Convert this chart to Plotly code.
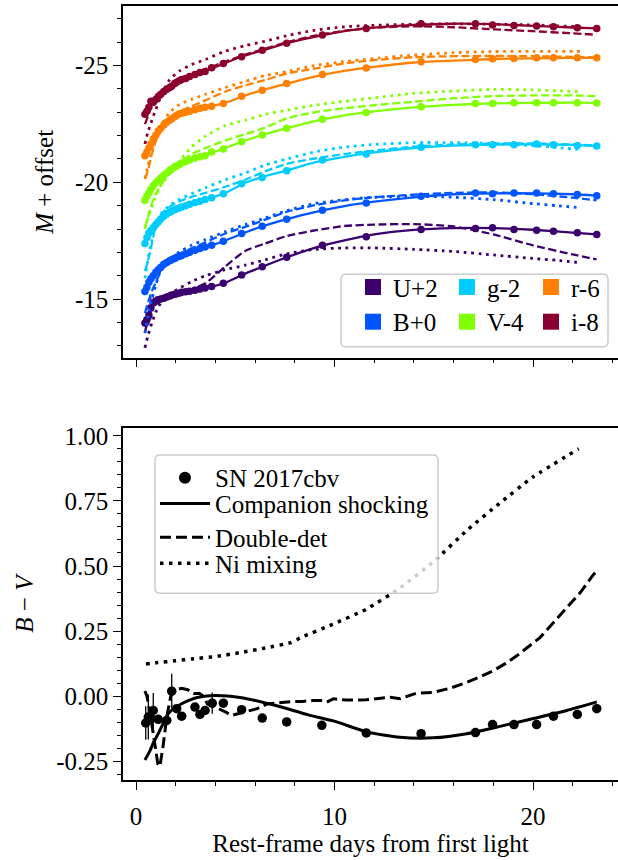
import plotly.graph_objects as go

# ---------------- light-curve data (plotted value = M + offset) ----------------
t_lc = [0.45, 0.55, 0.65, 0.75, 0.87, 1.0, 1.12, 1.25, 1.4, 1.55, 1.7, 1.8, 1.95, 2.05, 2.2, 2.3,
        2.5, 2.7, 2.97, 3.22, 3.48, 3.81, 4.40, 5.32, 6.36, 7.59, 9.39, 11.6, 14.36, 17.1, 17.96,
        19.04, 20.18, 21.03, 22.23, 23.21]

U_obs = [-13.98, -14.11, -14.32, -14.62, -14.83, -14.91, -14.97, -15.00, -15.04, -15.09, -15.13, -15.17,
         -15.21, -15.23, -15.26, -15.29, -15.31, -15.34, -15.38, -15.43, -15.47, -15.54, -15.68, -16.03,
         -16.39, -16.79, -17.31, -17.67, -17.98, -18.02, -18.05, -17.98, -17.95, -17.91, -17.84, -17.77]
U_err = [0.15, 0.3, 0.45, 0.5, 0.35, 0.2, 0.1, 0, 0, 0, 0, 0, 0, 0, 0, 0, 0, 0, 0, 0, 0, 0, 0, 0,
         0, 0, 0, 0, 0, 0, 0, 0, 0, 0, 0, 0]
B_obs = [-15.33, -15.51, -15.72, -15.87, -16.00, -16.15, -16.26, -16.36, -16.49, -16.57, -16.64, -16.68,
         -16.74, -16.79, -16.83, -16.87, -16.94, -17.00, -17.09, -17.17, -17.23, -17.30, -17.48, -17.81,
         -18.12, -18.42, -18.80, -19.11, -19.40, -19.54, -19.51, -19.54, -19.54, -19.51, -19.48, -19.43]
g_obs = [-17.38, -17.64, -17.83, -17.94, -18.06, -18.19, -18.30, -18.43, -18.55, -18.64, -18.72, -18.77,
         -18.83, -18.87, -18.91, -18.94, -19.00, -19.06, -19.14, -19.19, -19.26, -19.34, -19.51, -19.94,
         -20.21, -20.50, -20.96, -21.21, -21.50, -21.61, -21.61, -21.61, -21.64, -21.61, -21.58, -21.55]
V_obs = [-19.23, -19.40, -19.55, -19.70, -19.85, -19.98, -20.08, -20.19, -20.30, -20.40, -20.51, -20.57,
         -20.66, -20.70, -20.77, -20.83, -20.89, -20.96, -21.04, -21.09, -21.14, -21.30, -21.43, -21.74,
         -22.03, -22.32, -22.70, -22.99, -23.24, -23.37, -23.38, -23.41, -23.41, -23.41, -23.41, -23.40]
r_obs = [-21.14, -21.30, -21.47, -21.64, -21.85, -22.02, -22.20, -22.32, -22.45, -22.57, -22.66, -22.72,
         -22.81, -22.87, -22.94, -22.96, -23.00, -23.04, -23.11, -23.17, -23.21, -23.26, -23.37, -23.69,
         -23.94, -24.23, -24.62, -24.90, -25.16, -25.26, -25.29, -25.30, -25.33, -25.33, -25.33, -25.33]
i_obs = [-22.91, -23.04, -23.21, -23.47, -23.43, -23.55, -23.68, -23.77, -23.89, -23.98, -24.06, -24.11,
         -24.23, -24.28, -24.36, -24.40, -24.45, -24.53, -24.62, -24.70, -24.74, -24.91, -25.09, -25.38,
         -25.66, -25.96, -26.31, -26.59, -26.79, -26.79, -26.74, -26.72, -26.69, -26.66, -26.62, -26.59]

# ---------------- light-curve models ----------------
t_mod = [0.45, 0.6, 0.8, 1.0, 1.3, 1.7, 2.2, 2.8, 3.5, 4.5, 5.5, 6.5, 7.6, 9.0, 10.5, 12.0, 14.0,
         16.0, 18.0, 20.0, 22.0, 23.2]
t_ni = [0.45, 0.6, 0.8, 1.0, 1.3, 1.7, 2.2, 2.8, 3.5, 4.5, 5.5, 6.5, 7.6, 9.0, 10.5, 12.0, 14.0,
        16.0, 18.0, 20.0, 21.2, 22.4]

U_cs = [-13.89, -14.28, -14.79, -14.96, -15.02, -15.13, -15.26, -15.36, -15.47, -15.70, -16.09, -16.43,
        -16.79, -17.19, -17.51, -17.77, -17.96, -18.04, -18.04, -17.97, -17.85, -17.77]
B_cs = [-15.33, -15.64, -15.94, -16.13, -16.40, -16.64, -16.83, -17.02, -17.21, -17.51, -17.85, -18.15,
        -18.42, -18.72, -18.98, -19.17, -19.36, -19.49, -19.53, -19.53, -19.49, -19.43]
g_cs = [-17.38, -17.74, -18.00, -18.19, -18.47, -18.72, -18.91, -19.09, -19.26, -19.55, -19.98, -20.26,
        -20.51, -20.85, -21.09, -21.28, -21.47, -21.57, -21.62, -21.63, -21.60, -21.55]
V_cs = [-19.23, -19.47, -19.77, -19.98, -20.23, -20.51, -20.77, -21.00, -21.17, -21.47, -21.79, -22.06,
        -22.32, -22.62, -22.87, -23.04, -23.21, -23.32, -23.38, -23.40, -23.41, -23.40]
r_cs = [-21.14, -21.38, -21.72, -22.02, -22.36, -22.66, -22.94, -23.06, -23.21, -23.40, -23.72, -23.98,
        -24.23, -24.53, -24.77, -24.94, -25.13, -25.21, -25.28, -25.31, -25.33, -25.33]
i_cs = [-22.91, -23.17, -23.43, -23.60, -23.81, -24.06, -24.32, -24.55, -24.76, -25.11, -25.43, -25.68,
        -25.96, -26.23, -26.47, -26.62, -26.74, -26.79, -26.77, -26.70, -26.63, -26.59]

U_dd = [-13.55, -14.19, -14.74, -14.96, -15.09, -15.17, -15.30, -15.43, -15.68, -16.40, -17.06, -17.38,
        -17.70, -17.94, -18.13, -18.19, -18.21, -18.11, -17.77, -17.30, -16.91, -16.70]
B_dd = [-14.40, -14.83, -15.34, -15.72, -16.26, -16.66, -16.94, -17.17, -17.43, -17.81, -18.09, -18.40,
        -18.74, -19.02, -19.23, -19.36, -19.47, -19.55, -19.57, -19.49, -19.34, -19.23]
g_dd = [-16.20, -16.62, -17.38, -18.15, -18.66, -18.96, -19.19, -19.38, -19.55, -19.81, -20.11, -20.47,
        -20.79, -21.02, -21.21, -21.36, -21.53, -21.62, -21.66, -21.67, -21.62, -21.57]
V_dd = [-18.02, -18.49, -19.09, -19.51, -19.94, -20.43, -20.85, -21.21, -21.47, -21.79, -22.06, -22.34,
        -22.74, -23.00, -23.17, -23.30, -23.45, -23.60, -23.69, -23.72, -23.72, -23.69]
r_dd = [-20.15, -20.49, -21.21, -21.77, -22.28, -22.74, -23.04, -23.26, -23.51, -23.89, -24.15, -24.38,
        -24.66, -24.87, -25.09, -25.23, -25.36, -25.40, -25.41, -25.40, -25.37, -25.35]
i_dd = [-22.49, -22.83, -23.34, -23.55, -23.81, -24.06, -24.36, -24.62, -24.85, -25.17, -25.47, -25.72,
        -26.00, -26.28, -26.49, -26.62, -26.68, -26.64, -26.55, -26.47, -26.38, -26.32]

U_ni = [-12.91, -13.43, -13.98, -14.45, -14.91, -15.21, -15.47, -15.75, -16.00, -16.26, -16.45, -16.68,
        -16.94, -17.13, -17.19, -17.19, -17.13, -17.04, -16.89, -16.74, -16.66, -16.56]
B_ni = [-13.55, -14.28, -15.00, -15.60, -16.40, -16.74, -17.02, -17.31, -17.55, -17.89, -18.19, -18.47,
        -18.79, -19.09, -19.26, -19.36, -19.40, -19.36, -19.26, -19.09, -19.00, -18.91]
g_ni = [-15.89, -16.70, -17.55, -18.23, -18.70, -19.02, -19.28, -19.51, -19.77, -20.11, -20.40, -20.74,
        -21.00, -21.30, -21.51, -21.62, -21.70, -21.70, -21.66, -21.57, -21.49, -21.40]
V_ni = [-18.02, -18.49, -18.96, -19.43, -19.94, -20.36, -20.91, -21.51, -21.98, -22.43, -22.66, -22.91,
        -23.09, -23.30, -23.47, -23.62, -23.81, -23.91, -23.98, -23.96, -23.92, -23.88]
r_ni = [-20.15, -20.70, -21.34, -21.89, -22.49, -23.00, -23.34, -23.55, -23.77, -24.06, -24.32, -24.57,
        -24.74, -25.00, -25.17, -25.30, -25.45, -25.55, -25.60, -25.61, -25.61, -25.61]
i_ni = [-21.64, -22.15, -22.66, -23.13, -23.77, -24.40, -24.77, -25.04, -25.26, -25.62, -25.85, -26.04,
        -26.28, -26.51, -26.66, -26.72, -26.77, -26.79, -26.77, -26.74, -26.70, -26.66]

band_labels = ["U+2", "B+0", "g-2", "V-4", "r-6", "i-8"]
band_colors = ["#3c006e", "#0055ff", "#00ccff", "#7fff00", "#ff8000", "#8b0030"]

# ---------------- B-V colour ----------------
bv_t = [0.49, 0.62, 0.76, 0.87, 1.12, 1.55, 1.80, 2.05, 2.30, 2.97, 3.22, 3.48, 3.84, 4.40, 5.32,
        6.36, 7.59, 9.36, 11.6, 14.36, 17.1, 17.96, 19.04, 20.18, 21.03, 22.23, 23.21]
bv = [-0.103, -0.08, -0.086, -0.055, -0.089, -0.093, 0.019, -0.048, -0.077, -0.042, -0.070, -0.055,
      -0.027, -0.027, -0.052, -0.084, -0.099, -0.112, -0.141, -0.144, -0.140, -0.109, -0.109, -0.109,
      -0.077, -0.070, -0.048]
bv_err = [0.064, 0.086, 0, 0.067, 0, 0, 0.067, 0, 0, 0, 0, 0, 0.041, 0, 0, 0, 0, 0, 0, 0, 0, 0, 0,
          0, 0, 0, 0]

bv_cs_t = [0.45, 0.7, 0.9, 1.12, 1.4, 1.63, 2.0, 2.30, 2.7, 3.14, 3.98, 5.32, 7.0, 8.68, 9.94, 11.62,
           13.3, 14.98, 16.66, 18.34, 20.02, 21.7, 23.21]
bv_cs = [-0.245, -0.21, -0.175, -0.144, -0.10, -0.067, -0.042, -0.029, -0.015, -0.004, 0.003, -0.006,
         -0.035, -0.072, -0.095, -0.137, -0.158, -0.160, -0.144, -0.116, -0.086, -0.055, -0.022]

bv_dd_t = [0.45, 0.55, 0.7, 0.9, 1.1, 1.2, 1.35, 1.55, 1.75, 2.0, 2.3, 2.6, 2.9, 3.2, 3.4, 3.6, 3.9,
           4.2, 4.5, 4.8, 5.5, 6.1, 6.6, 7.2, 7.9, 8.4, 8.9, 9.4, 9.6, 9.95, 10.6, 11.6, 12.3, 12.8,
           13.3, 14.1, 15.0, 15.8, 16.66, 17.3, 18.0, 18.6, 19.18, 20.0, 20.35, 21.0, 21.7, 22.4,
           23.04, 23.2]
bv_dd = [0.02, 0.0, -0.06, -0.17, -0.26, -0.27, -0.2, -0.08, 0.0, 0.025, 0.03, 0.025, 0.01, 0.01, 0.0,
         -0.03, -0.04, -0.05, -0.06, -0.074, -0.06, -0.048, -0.03, -0.025, -0.02, -0.02, -0.017, -0.017,
         -0.023, -0.01, -0.015, -0.014, -0.008, -0.004, -0.01, 0.011, 0.015, 0.03, 0.053, 0.073, 0.098,
         0.125, 0.155, 0.206, 0.225, 0.28, 0.34, 0.40, 0.467, 0.48]

bv_ni_t = [0.5, 1.0, 2.0, 2.8, 4.0, 5.3, 6.5, 7.8, 8.3, 9.9, 11.6, 13.3, 15.0, 16.7, 18.3, 20.0, 22.3]
bv_ni = [0.124, 0.128, 0.136, 0.143, 0.152, 0.168, 0.185, 0.206, 0.225, 0.276, 0.334, 0.416, 0.518,
         0.639, 0.740, 0.842, 0.950]

bv_legend = ["SN 2017cbv", "Companion shocking", "Double-det", "Ni mixing"]

# ---------------- figure ----------------
FONT = "Liberation Serif, Times New Roman, serif"
FS = 25
fig = go.Figure()

obs = [U_obs, B_obs, g_obs, V_obs, r_obs, i_obs]
cs = [U_cs, B_cs, g_cs, V_cs, r_cs, i_cs]
dd = [U_dd, B_dd, g_dd, V_dd, r_dd, i_dd]
ni = [U_ni, B_ni, g_ni, V_ni, r_ni, i_ni]

TOP_DASH = "8px,3.5px"
TOP_DOT = "2.8px,4.6px"

for k in range(6):
    c = band_colors[k]
    fig.add_trace(go.Scatter(x=t_ni, y=ni[k], mode="lines", line=dict(color=c, width=2.8, dash=TOP_DOT,
                             shape="spline", smoothing=0.6), showlegend=False, xaxis="x", yaxis="y"))
    fig.add_trace(go.Scatter(x=t_mod, y=dd[k], mode="lines", line=dict(color=c, width=2.3, dash=TOP_DASH,
                             shape="spline", smoothing=0.6), showlegend=False, xaxis="x", yaxis="y"))
    fig.add_trace(go.Scatter(x=t_mod, y=cs[k], mode="lines", line=dict(color=c, width=2.3,
                             shape="spline", smoothing=0.6), showlegend=False, xaxis="x", yaxis="y"))
    err = dict(type="data", array=U_err, color=c, thickness=1.2, width=0) if k == 0 else None
    fig.add_trace(go.Scatter(x=t_lc, y=obs[k], mode="markers", marker=dict(color=c, size=7.5),
                             error_y=err, showlegend=False, xaxis="x", yaxis="y"))

# bottom panel
fig.add_trace(go.Scatter(x=bv_ni_t, y=bv_ni, mode="lines", showlegend=False,
                         line=dict(color="black", width=3.5, dash="3.5px,5.5px", shape="spline",
                                   smoothing=0.5), xaxis="x2", yaxis="y2"))
fig.add_trace(go.Scatter(x=bv_dd_t, y=bv_dd, mode="lines", showlegend=False,
                         line=dict(color="black", width=3, dash="11px,5px"), xaxis="x2", yaxis="y2"))
fig.add_trace(go.Scatter(x=bv_cs_t, y=bv_cs, mode="lines", showlegend=False,
                         line=dict(color="black", width=3, shape="spline", smoothing=0.6),
                         xaxis="x2", yaxis="y2"))
fig.add_trace(go.Scatter(x=bv_t, y=bv, mode="markers", showlegend=False,
                         marker=dict(color="black", size=9.5),
                         error_y=dict(type="data", array=bv_err, color="black", thickness=1.3, width=0),
                         xaxis="x2", yaxis="y2"))

# ---------------- legends (one plotly legend per entry, placed like the original) ----------------
# top panel legend: 3 columns x 2 rows
top_cols = [0.4646, 0.6545, 0.8242]
top_rows = [0.6367, 0.5918]
band_pos = [(0, 0), (0, 1), (1, 0), (1, 1), (2, 0), (2, 1)]
legend_layout = {}
for k in range(6):
    name = "legend" if k == 0 else "legend%d" % (k + 1)
    col, row = band_pos[k]
    legend_layout[name] = dict(x=top_cols[col], y=top_rows[row], xanchor="left", yanchor="middle",
                               bgcolor="rgba(0,0,0,0)", borderwidth=0, itemwidth=30,
                               font=dict(family=FONT, size=FS, color="black"))
    fig.add_trace(go.Scatter(x=[None], y=[None], mode="markers", name=band_labels[k],
                             marker=dict(symbol="square", size=16, color=band_colors[k]),
                             legend=name, xaxis="x", yaxis="y"))

# bottom panel legend: 4 rows
bot_rows = [0.3902, 0.3569, 0.3132, 0.2798]
bot_styles = [dict(mode="markers", marker=dict(color="black", size=12)),
              dict(mode="lines", line=dict(color="black", width=3)),
              dict(mode="lines", line=dict(color="black", width=3, dash="11px,5px")),
              dict(mode="lines", line=dict(color="black", width=3.5, dash="3.5px,5.5px"))]
for j in range(4):
    name = "legend%d" % (7 + j)
    legend_layout[name] = dict(x=0.0646, y=bot_rows[j], xanchor="left", yanchor="middle",
                               bgcolor="rgba(0,0,0,0)", borderwidth=0, itemwidth=50,
                               font=dict(family=FONT, size=FS, color="black"))
    fig.add_trace(go.Scatter(x=[None], y=[None], name=bv_legend[j], legend=name,
                             xaxis="x2", yaxis="y2", **bot_styles[j]))


def rounded_box(x0, y0, x1, y1, rx, ry):
    return ("M %f,%f L %f,%f Q %f,%f %f,%f L %f,%f Q %f,%f %f,%f L %f,%f Q %f,%f %f,%f "
            "L %f,%f Q %f,%f %f,%f Z" % (
                x0 + rx, y0, x1 - rx, y0, x1, y0, x1, y0 + ry, x1, y1 - ry, x1, y1, x1 - rx, y1,
                x0 + rx, y1, x0, y1, x0, y1 - ry, x0, y0 + ry, x0, y0, x0 + rx, y0))


RX, RY = 5 / 495, 5 / 779
legend_boxes = [
    (0.4404, 0.5597, 0.9798, 0.6534),   # top legend frame (paper coords)
    (0.0646, 0.2413, 0.6364, 0.4198),   # bottom legend frame
]
shapes = [dict(type="path", xref="paper", yref="paper", layer="above",
               path=rounded_box(b[0], b[1], b[2], b[3], RX, RY),
               fillcolor="rgba(255,255,255,0.8)", line=dict(color="#cccccc", width=1.5))
          for b in legend_boxes]

axis_common = dict(showline=True, linecolor="black", linewidth=1.5, ticks="outside", ticklen=8,
                   tickwidth=1.3, tickcolor="black", showgrid=False, zeroline=False,
                   tickfont=dict(family=FONT, size=FS, color="black"))
X_RANGE = [-0.655, 24.28]

fig.update_layout(
    width=618, height=860,
    margin=dict(l=123, r=0, t=1, b=80),
    plot_bgcolor="white", paper_bgcolor="white",
    font=dict(family=FONT, size=FS, color="black"),
    shapes=shapes,
    xaxis=dict(domain=[0, 1], anchor="y", range=X_RANGE, tickmode="linear", tick0=0, dtick=10,
               showticklabels=False, mirror=True,
               minor=dict(tickmode="linear", tick0=0, dtick=2, ticks="outside", ticklen=4,
                          tickwidth=1.1, tickcolor="black"), **axis_common),
    yaxis=dict(domain=[0.5456, 1], anchor="x", range=[-12.49, -27.55], tickmode="array",
               tickvals=[-25, -20, -15], ticktext=["-25", "-20", "-15"],
               title=dict(text="<i>M</i> + offset", font=dict(family=FONT, size=FS), standoff=14),
               minor=dict(tickmode="linear", tick0=0, dtick=1, ticks="outside", ticklen=4,
                          tickwidth=1.1, tickcolor="black"), **axis_common),
    xaxis2=dict(domain=[0, 1], anchor="y2", range=X_RANGE, tickmode="linear", tick0=0, dtick=10,
                mirror=True, ticklabelstandoff=5,
                title=dict(text="Rest-frame days from first light", font=dict(family=FONT, size=FS),
                           standoff=0),
                minor=dict(tickmode="linear", tick0=0, dtick=2, ticks="outside", ticklen=4,
                           tickwidth=1.1, tickcolor="black"), **axis_common),
    yaxis2=dict(domain=[0, 0.4544], anchor="x2", range=[-0.322, 1.029], tickmode="array",
                tickvals=[-0.25, 0, 0.25, 0.5, 0.75, 1.0],
                ticktext=["-0.25", "0.00", "0.25", "0.50", "0.75", "1.00"],
                title=dict(text="<i>B</i> − <i>V</i>", font=dict(family=FONT, size=FS)),
                minor=dict(tickmode="linear", tick0=0, dtick=0.05, ticks="outside", ticklen=4,
                           tickwidth=1.1, tickcolor="black"), **axis_common),
    showlegend=True,
    **legend_layout,
)

fig.write_html("out.html")
